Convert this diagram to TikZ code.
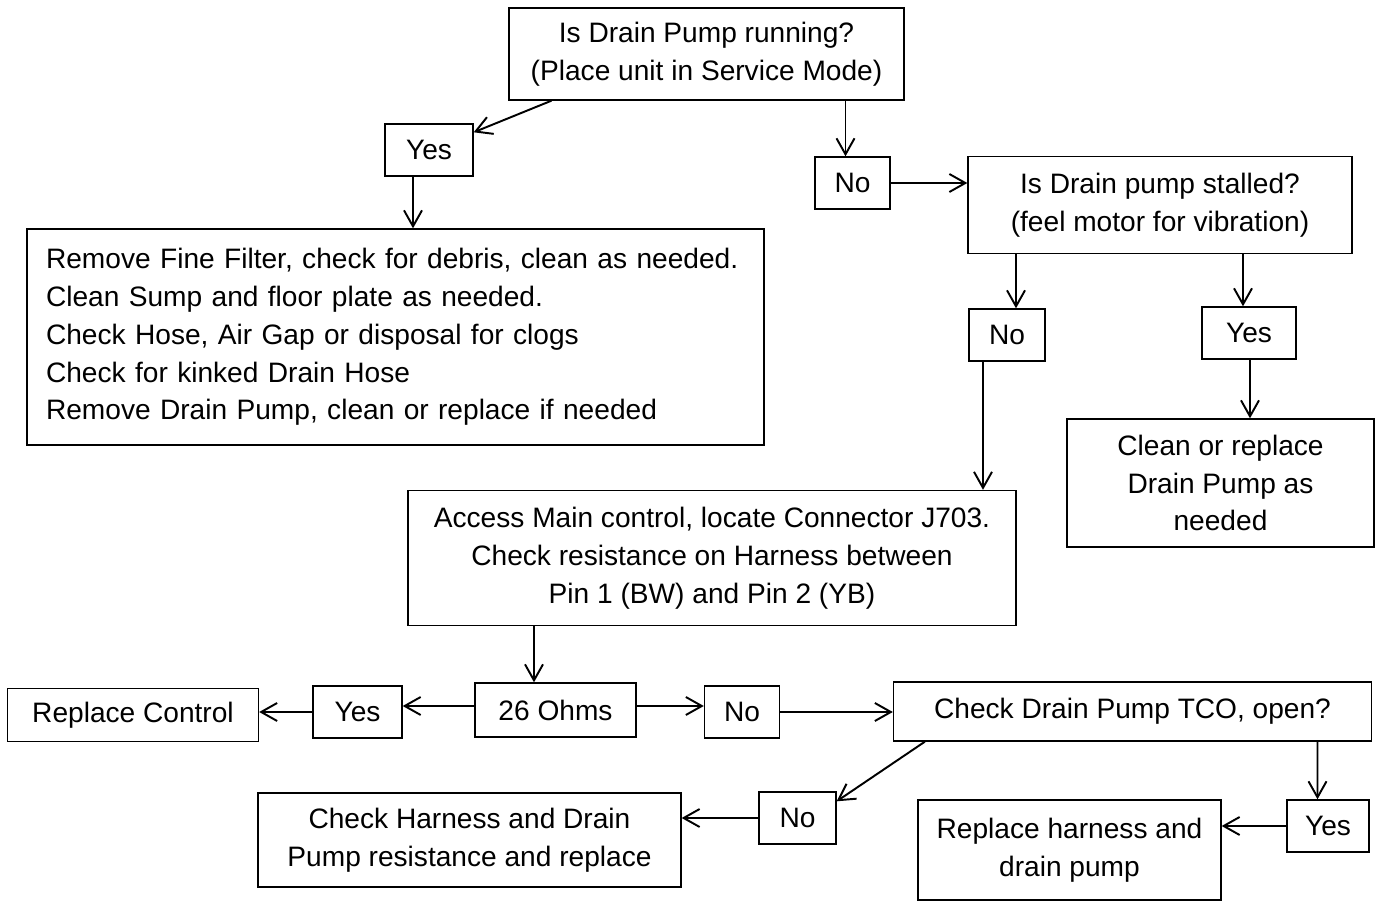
\documentclass[tikz,border=0pt]{standalone}
\usepackage{fontspec}
\setmainfont{Liberation Sans}
\usetikzlibrary{arrows.meta, calc}

\begin{document}
\begin{tikzpicture}[
	x=0.02cm, y=-0.02cm,
	>={Straight Barb[length=3.2mm,width=3.6mm]},
	font=\fontsize{16}{21.5}\selectfont,
	% Styles for the boxes
	box/.style={draw, line width=0.8pt, inner sep=0pt, align=center},
	answer/.style={box, minimum height=1.04cm},
	% Style for the connectors
	flow/.style={->, line width=1.1pt}
	]
	
	\useasboundingbox (0,0) rectangle (1383,901);
	
	% ==========================================
	% TOP: IS THE PUMP RUNNING?
	% ==========================================
	\node[box, minimum width=7.9cm, minimum height=1.84cm] (q1) at (706.5,54)
		{Is Drain Pump running?\\(Place unit in Service Mode)};
	\node[answer, minimum width=1.76cm] (yes1) at (429,150) {Yes};
	\node[answer, minimum width=1.5cm] (no1) at (852.5,183) {No};
	
	\node[box, minimum width=14.74cm, minimum height=4.32cm, text width=13.98cm, align=left] (fix1) at (395.5,337)
		{Remove Fine Filter, check for debris, clean as needed.\\
		Clean Sump and floor plate as needed.\\
		Check Hose, Air Gap or disposal for clogs\\
		Check for kinked Drain Hose\\
		Remove Drain Pump, clean or replace if needed};
	
	% ==========================================
	% RIGHT: IS THE PUMP STALLED?
	% ==========================================
	\node[box, minimum width=7.68cm, minimum height=1.94cm] (q2) at (1160,205)
		{Is Drain pump stalled?\\(feel motor for vibration)};
	\node[answer, minimum width=1.52cm] (no2) at (1007,335) {No};
	\node[answer, minimum width=1.88cm] (yes2) at (1249,333) {Yes};
	\node[box, minimum width=6.14cm, minimum height=2.56cm] (fix2) at (1220.5,483)
		{Clean or replace\\Drain Pump as\\needed};
	
	% ==========================================
	% MIDDLE: HARNESS RESISTANCE
	% ==========================================
	\node[box, minimum width=12.16cm, minimum height=2.7cm] (q3) at (712,558)
		{Access Main control, locate Connector J703.\\
		Check resistance on Harness between\\
		Pin 1 (BW) and Pin 2 (YB)};
	\node[box, minimum width=3.22cm, minimum height=1.08cm] (ohms) at (555.5,710) {26 Ohms};
	\node[answer, minimum width=1.78cm] (yes3) at (357.5,712) {Yes};
	\node[box, minimum width=5.02cm, minimum height=1.06cm] (repctl) at (133,715) {Replace Control};
	\node[answer, minimum width=1.5cm] (no3) at (742,712) {No};
	
	% ==========================================
	% BOTTOM: TCO CHECK
	% ==========================================
	\node[box, minimum width=9.56cm, minimum height=1.18cm] (q4) at (1132.5,711.5)
		{Check Drain Pump TCO, open?};
	\node[answer, minimum width=1.54cm] (no4) at (797.5,818) {No};
	\node[box, minimum width=8.46cm, minimum height=1.88cm] (harness) at (469.5,840)
		{Check Harness and Drain\\Pump resistance and replace};
	\node[answer, minimum width=1.64cm] (yes4) at (1328,826) {Yes};
	\node[box, minimum width=6.06cm, minimum height=2cm] (rephar) at (1069.5,850)
		{Replace harness and\\drain pump};
	
	% ==========================================
	% CONNECTORS
	% ==========================================
	\draw[flow] ($(q1.south)+(-155,0)$) -- ($(yes1.north east)+(0,9)$);
	\draw[flow] ($(q1.south)+(139,0)$) -- ($(no1.north)+(-7,0)$);
	\draw[flow] ($(yes1.south)+(-16,0)$) -- ($(fix1.north)+(17.5,0)$);
	\draw[flow] (no1.east) -- (no1.east -| q2.west);
	
	\draw[flow] ($(q2.south)+(-144,0)$) -- ($(no2.north)+(9,0)$);
	\draw[flow] ($(q2.south)+(83,0)$) -- ($(yes2.north)+(-6,0)$);
	\draw[flow] ($(yes2.south)+(1,0)$) -- ($(fix2.north)+(29.5,0)$);
	\draw[flow] ($(no2.south)+(-24,0)$) -- ($(q3.north)+(271,0)$);
	
	\draw[flow] ($(q3.south)+(-178,0)$) -- ($(ohms.north)+(-21.5,0)$);
	\draw[flow] ($(ohms.west)+(0,-4)$) -- ($(yes3.east)+(0,-6)$);
	\draw[flow] (yes3.west) -- (yes3.west -| repctl.east);
	\draw[flow] ($(ohms.east)+(0,-4)$) -- ($(no3.west)+(0,-6)$);
	\draw[flow] (no3.east) -- (no3.east -| q4.west);
	
	\draw[flow] ($(q4.south west)+(32,0)$) -- ($(no4.north east)+(0,10)$);
	\draw[flow] ($(q4.south)+(185,0)$) -- ($(yes4.north)+(-10.5,0)$);
	\draw[flow] (no4.west) -- (no4.west -| harness.east);
	\draw[flow] (yes4.west) -- (yes4.west -| rephar.east);
	
\end{tikzpicture}
\end{document}
